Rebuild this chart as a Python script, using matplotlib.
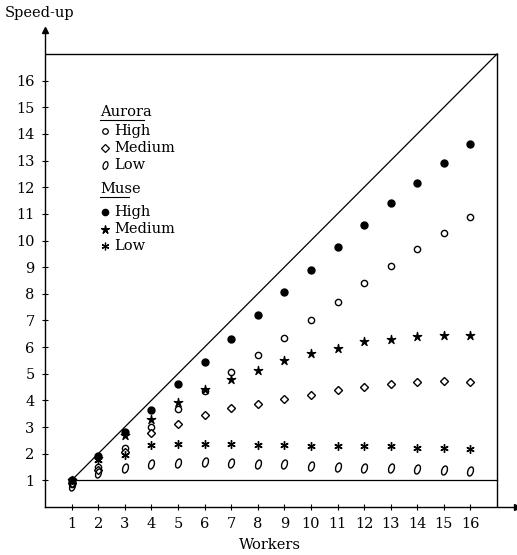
import matplotlib
matplotlib.use('Agg')
import matplotlib.pyplot as plt
from matplotlib.markers import MarkerStyle
from matplotlib.transforms import Affine2D

# Speed-up vs number of workers
workers = list(range(1, 17))

aurora_high = [0.85, 1.5, 2.2, 3.0, 3.66, 4.35, 5.08, 5.72, 6.36, 7.02, 7.7, 8.4, 9.04, 9.69, 10.29, 10.89]
aurora_medium = [0.9, 1.4, 2.06, 2.76, 3.1, 3.44, 3.7, 3.85, 4.04, 4.2, 4.39, 4.49, 4.62, 4.69, 4.74, 4.69]
aurora_low = [0.78, 1.26, 1.45, 1.6, 1.64, 1.69, 1.66, 1.6, 1.6, 1.54, 1.5, 1.48, 1.48, 1.44, 1.39, 1.35]
muse_high = [1.0, 1.9, 2.82, 3.65, 4.6, 5.46, 6.32, 7.21, 8.06, 8.91, 9.76, 10.58, 11.4, 12.16, 12.91, 13.64]
muse_medium = [1.0, 1.85, 2.72, 3.31, 3.95, 4.43, 4.81, 5.14, 5.5, 5.79, 5.96, 6.22, 6.31, 6.41, 6.44, 6.44]
muse_low = [1.0, 1.75, 1.95, 2.32, 2.37, 2.35, 2.35, 2.32, 2.32, 2.29, 2.29, 2.29, 2.29, 2.23, 2.23, 2.16]

tick_values = list(range(1, 17))

plt.rcParams['font.family'] = ['DejaVu Serif']
plt.rcParams['mathtext.fontset'] = 'dejavuserif'

W, H = 517, 555
fig = plt.figure(figsize=(W / 100, H / 100), dpi=100)
ax = fig.add_axes([45 / W, 48 / H, 472 / W, 477 / H])
ax.set_xlim(0, 17.75)
ax.set_ylim(0, 17.9)

ax.spines['top'].set_visible(False)
ax.spines['right'].set_visible(False)
for s in ('left', 'bottom'):
    ax.spines[s].set_linewidth(1.0)

# frame, ideal speed-up, and baseline
ax.plot([0, 17], [17, 17], color='black', lw=1.0)
ax.plot([17, 17], [0, 17], color='black', lw=1.0)
ax.plot([1, 17], [1, 17], color='black', lw=0.9)
ax.plot([1, 17], [1, 1], color='black', lw=0.9)

# axis arrows
ax.plot([0], [17.9], marker='^', color='black', ms=4, clip_on=False)
ax.plot([17.75], [0], marker='>', color='black', ms=4, clip_on=False)

# slanted italic "o" for the low-load Aurora runs
slant_o = MarkerStyle('o', fillstyle='none',
                      transform=Affine2D().scale(0.62, 1.0).skew_deg(12, 0))

mk = dict(linestyle='none', color='black', clip_on=False)
ax.plot(workers, aurora_high, marker='o', ms=4.5, mfc='white', mew=1.0, **mk)
ax.plot(workers, aurora_medium, marker='D', ms=4.2, mfc='white', mew=1.0, **mk)
ax.plot(workers, aurora_low, marker=slant_o, ms=6.5, mew=1.0, **mk)
ax.plot(workers, muse_high, marker='o', ms=5, **mk)
ax.plot(workers, muse_medium, marker=r'$\star$', ms=6, **mk)
ax.plot(workers, muse_low, marker=(6, 2, 0), ms=6, mew=1.0, **mk)

ax.set_xticks(tick_values)
ax.set_yticks(tick_values)
ax.tick_params(direction='inout', length=5, width=0.8, labelsize=10.5, pad=5)

fig.text(5 / W, 1 - 13 / H, 'Speed-up', fontsize=10.5, va='center', ha='left')
fig.text(270 / W, 1 - 545 / H, 'Workers', fontsize=10.5, va='center', ha='center')

# hand-drawn style legend
def fig_xy(px, py):
    return px / W, 1 - py / H

legend_rows = [
    ('head', 'Aurora', 112),
    (dict(marker='o', ms=4, mfc='white', mew=0.9), 'High', 131),
    (dict(marker='D', ms=3.8, mfc='white', mew=0.9), 'Medium', 148),
    (dict(marker=slant_o, ms=5.5, mew=0.9), 'Low', 165),
    ('head', 'Muse', 189),
    (dict(marker='o', ms=4.5), 'High', 212),
    (dict(marker=r'$\star$', ms=5.5), 'Medium', 229),
    (dict(marker=(6, 2, 0), ms=5.5, mew=0.9), 'Low', 246),
]
for style, label, py in legend_rows:
    if style == 'head':
        x, y = fig_xy(100, py)
        fig.text(x, y, label, fontsize=10.5, va='center', ha='left')
        ux0, uy = fig_xy(100, py + 8)
        ux1, _ = fig_xy(100 + 7.3 * len(label), py + 8)
        fig.add_artist(plt.Line2D([ux0, ux1], [uy, uy], color='black', lw=0.8))
    else:
        mx, my = fig_xy(105, py)
        fig.add_artist(plt.Line2D([mx], [my], linestyle='none', color='black', **style))
        tx, ty = fig_xy(114, py)
        fig.text(tx, ty, label, fontsize=10.5, va='center', ha='left')

fig.savefig('out.png', dpi=100)
